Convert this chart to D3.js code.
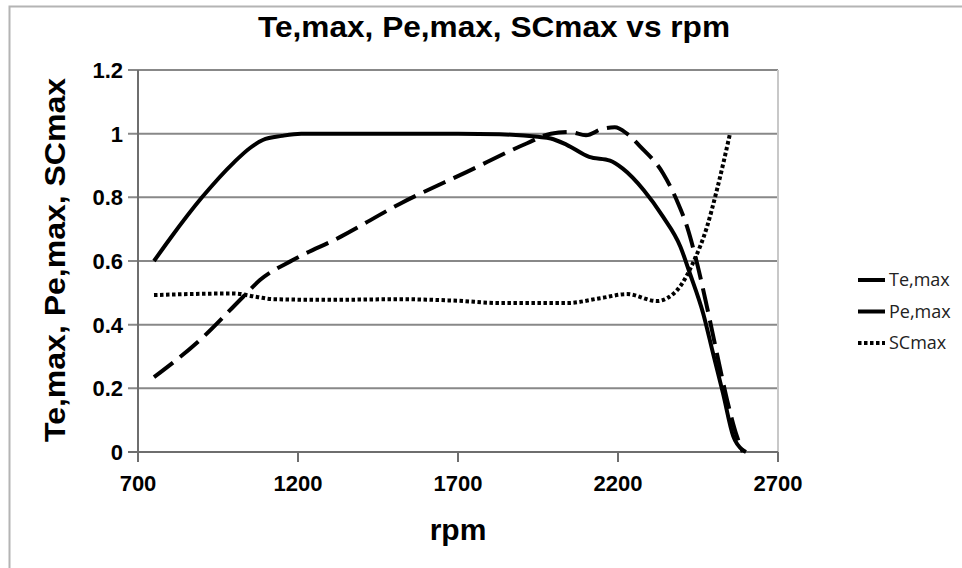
<!doctype html>
<html>
<head>
	<meta charset="UTF-8">
	<title>Te,max, Pe,max, SCmax vs rpm</title>
	<style>
		body { margin: 0; background: #fff; }
		svg text { font-family: "Liberation Sans", Arial, sans-serif; fill: #000; }
		.grid line { stroke: #888; stroke-width: 2; }
		.tick-label { font-size: 22px; font-weight: bold; }
		.axis-title { font-size: 30px; font-weight: bold; }
		.legend text { font-family: "Open Sans", "Liberation Sans", sans-serif; font-size: 17px; fill: #222; }
	</style>
</head>
<body>
	<script src="https://cdn.jsdelivr.net/npm/d3@7"></script>
	<script>
		var w = 962,
			h = 568;

		// series
		var teRpm = [750, 800, 900, 1000, 1050, 1090, 1150, 1210, 1300, 1500, 1700, 1830, 1950, 1990, 2040, 2110, 2175, 2215, 2280, 2340, 2395, 2425, 2466, 2497, 2528, 2560, 2590, 2600];
		var teVal = [0.60, 0.67, 0.80, 0.91, 0.955, 0.98, 0.993, 1.0, 1.0, 1.0, 1.0, 0.998, 0.99, 0.985, 0.965, 0.927, 0.915, 0.89, 0.823, 0.74, 0.645, 0.56, 0.436, 0.31, 0.185, 0.05, 0.006, 0.0];

		var peRpm = [750, 894, 1028, 1081, 1184, 1331, 1519, 1728, 1916, 1990, 2050, 2100, 2150, 2190, 2228, 2269, 2341, 2384, 2416, 2447, 2478, 2509, 2541, 2572, 2590];
		var peVal = [0.235, 0.352, 0.487, 0.54, 0.603, 0.675, 0.78, 0.88, 0.97, 1.0, 1.005, 0.995, 1.015, 1.02, 1.0, 0.96, 0.875, 0.79, 0.707, 0.593, 0.456, 0.31, 0.163, 0.048, 0.0];

		var scRpm = [750, 1000, 1072, 1122, 1300, 1519, 1700, 1831, 1934, 2040, 2144, 2228, 2322, 2353, 2394, 2434, 2478, 2509, 2550];
		var scVal = [0.493, 0.498, 0.487, 0.48, 0.478, 0.48, 0.475, 0.468, 0.468, 0.468, 0.483, 0.496, 0.474, 0.483, 0.52, 0.593, 0.707, 0.823, 1.0];

		var xTicks = [700, 1200, 1700, 2200, 2700];
		var yTicks = [0, 0.2, 0.4, 0.6, 0.8, 1, 1.2];

		var seriesNames = ['Te,max', 'Pe,max', 'SCmax'];

		var plot = { left: 138, right: 778, top: 70, bottom: 452 };

		var svg = d3.select('body')
			.append('svg')
			.attr('width', w)
			.attr('height', h);

		// outer chart border
		svg.append('path')
			.attr('d', 'M9.5,' + h + 'V6.5H' + w)
			.attr('fill', 'none')
			.attr('stroke', '#b4b4b4')
			.attr('stroke-width', 2);

		var xScale = d3.scaleLinear()
			.domain([700, 2700])
			.range([plot.left, plot.right]);

		var yScale = d3.scaleLinear()
			.domain([0, 1.2])
			.range([plot.bottom, plot.top]);

		// horizontal gridlines (with tick stubs to the left)
		svg.append('g')
			.attr('class', 'grid')
			.selectAll('line')
			.data(yTicks)
			.enter()
			.append('line')
			.attr('x1', plot.left - 10)
			.attr('x2', plot.right)
			.attr('y1', function(d) { return yScale(d); })
			.attr('y2', function(d) { return yScale(d); });

		// right border of plot area
		svg.append('line')
			.attr('x1', plot.right).attr('x2', plot.right)
			.attr('y1', plot.top).attr('y2', plot.bottom)
			.attr('stroke', '#c8c8c8')
			.attr('stroke-width', 2);

		// y axis line
		svg.append('line')
			.attr('x1', plot.left).attr('x2', plot.left)
			.attr('y1', plot.top).attr('y2', plot.bottom)
			.attr('stroke', '#6e6e6e')
			.attr('stroke-width', 2);

		// x axis line + ticks
		svg.append('line')
			.attr('x1', plot.left - 10).attr('x2', plot.right)
			.attr('y1', plot.bottom).attr('y2', plot.bottom)
			.attr('stroke', '#6e6e6e')
			.attr('stroke-width', 2);

		svg.append('g')
			.selectAll('line')
			.data(xTicks)
			.enter()
			.append('line')
			.attr('x1', function(d) { return xScale(d); })
			.attr('x2', function(d) { return xScale(d); })
			.attr('y1', plot.bottom)
			.attr('y2', plot.bottom + 10)
			.attr('stroke', '#6e6e6e')
			.attr('stroke-width', 2);

		// tick labels
		svg.append('g')
			.selectAll('text')
			.data(yTicks)
			.enter()
			.append('text')
			.attr('class', 'tick-label')
			.attr('x', plot.left - 15)
			.attr('y', function(d) { return yScale(d) + 8; })
			.attr('text-anchor', 'end')
			.text(function(d) { return d3.format('~g')(d); });

		svg.append('g')
			.selectAll('text')
			.data(xTicks)
			.enter()
			.append('text')
			.attr('class', 'tick-label')
			.attr('x', function(d) { return xScale(d); })
			.attr('y', plot.bottom + 39)
			.attr('text-anchor', 'middle')
			.text(function(d) { return d; });

		// titles
		svg.append('text')
			.attr('class', 'axis-title')
			.attr('x', 258)
			.attr('y', 37)
			.attr('textLength', 472)
			.attr('lengthAdjust', 'spacingAndGlyphs')
			.text('Te,max, Pe,max, SCmax vs rpm');

		svg.append('text')
			.attr('class', 'axis-title')
			.attr('x', 458)
			.attr('y', 540)
			.attr('text-anchor', 'middle')
			.text('rpm');

		svg.append('text')
			.attr('class', 'axis-title')
			.attr('transform', 'translate(65,442) rotate(-90)')
			.attr('textLength', 364)
			.attr('lengthAdjust', 'spacingAndGlyphs')
			.text('Te,max, Pe,max, SCmax');

		// lines
		var makeLine = d3.line()
			.x(function(d) { return xScale(d[0]); })
			.y(function(d) { return yScale(d[1]); })
			.curve(d3.curveMonotoneX);

		var series = [
			{ name: seriesNames[0], pts: d3.zip(teRpm, teVal), dash: null },
			{ name: seriesNames[1], pts: d3.zip(peRpm, peVal), dash: '24,9' },
			{ name: seriesNames[2], pts: d3.zip(scRpm, scVal), dash: '3.5,2.5' }
		];

		svg.append('g')
			.selectAll('path')
			.data(series)
			.enter()
			.append('path')
			.attr('d', function(d) { return makeLine(d.pts); })
			.attr('fill', 'none')
			.attr('stroke', '#000')
			.attr('stroke-width', 4)
			.attr('stroke-dasharray', function(d) { return d.dash; });

		// legend
		var legend = svg.append('g')
			.attr('class', 'legend')
			.selectAll('g')
			.data(series)
			.enter()
			.append('g')
			.attr('transform', function(d, i) { return 'translate(858,' + (280 + i * 31.5) + ')'; });

		legend.append('line')
			.attr('x1', 0)
			.attr('x2', 27)
			.attr('stroke', '#000')
			.attr('stroke-width', 4)
			.attr('stroke-dasharray', function(d, i) { return i === 2 ? '3.5,2.5' : null; });

		legend.append('text')
			.attr('x', 31)
			.attr('y', 6)
			.style('font-size', '18px')
			.text(function(d) { return d.name; });
	</script>
</body>
</html>
